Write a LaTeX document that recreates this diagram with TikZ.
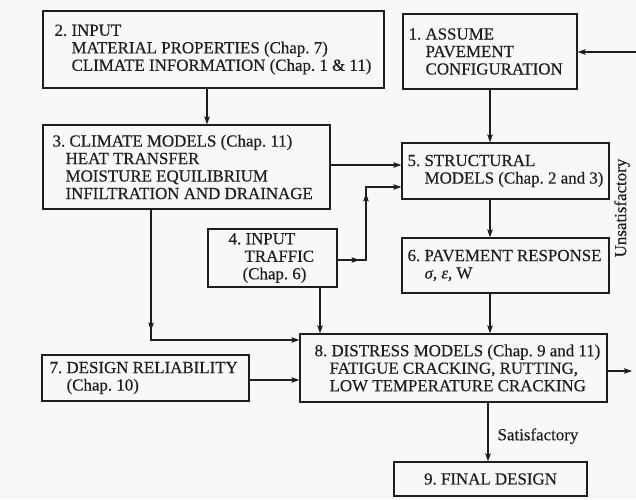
\documentclass[tikz,border=0pt]{standalone}
\usepackage{fontspec}
\setmainfont{Liberation Serif}
\usetikzlibrary{arrows.meta,decorations.markings,fit}
\definecolor{ink}{HTML}{1E1E1E}
\definecolor{paper}{HTML}{F7F8FA}
\begin{document}
\begin{tikzpicture}[x=1pt,y=-1pt,
  color=ink,
  font=\fontsize{16.9}{17.5}\selectfont\addfontfeatures{FakeBold=0.35}\frenchspacing,
  ar/.tip={Stealth[length=8pt,width=5.5pt,inset=1.5pt]},
  box/.style={draw=ink, line width=1.2pt, inner sep=0pt},
  txt/.style={text=ink, align=left, inner sep=0pt, anchor=west},
  conn/.style={draw=ink, line width=1.2pt, -{ar}},
  midAB/.style={postaction={decorate}, decoration={markings,
      mark=at position 22pt with {\arrow{ar}},
      mark=at position 95pt with {\arrow{ar}}}},
  midC/.style={postaction={decorate}, decoration={markings,
      mark=at position 121pt with {\arrow{ar}}}}
]
\useasboundingbox (0,0) rectangle (636,499);
\fill[paper] (0,0) rectangle (636,499);

% boxes
\node[box, fit={(43,11)(384,88)}]   (b2) {};
\node[box, fit={(403,14)(577,89)}]  (b1) {};
\node[box, fit={(43,125)(330,209)}] (b3) {};
\node[box, fit={(402,143)(609,199)}] (b5) {};
\node[box, fit={(208,229)(337,287)}] (b4) {};
\node[box, fit={(402,238)(609,293)}] (b6) {};
\node[box, fit={(42,355)(249,401)}] (b7) {};
\node[box, fit={(300,334)(607,402)}] (b8) {};
\node[box, fit={(394,462)(587,496)}] (b9) {};

% texts
\node[txt] (t2) at ([xshift=12pt]b2.west) {2.\ INPUT\\\hspace*{17pt}MATERIAL PROPERTIES (Chap.~7)\\\hspace*{17pt}CLIMATE INFORMATION (Chap.~1 \& 11)};
\node[txt] (t1) at ([xshift=6pt]b1.west) {1.\ ASSUME\\\hspace*{17pt}PAVEMENT\\\hspace*{17pt}CONFIGURATION};
\node[txt] (t3) at ([xshift=10pt]b3.west) {3.\ CLIMATE MODELS (Chap.~11)\\\hspace*{13pt}HEAT TRANSFER\\\hspace*{13pt}MOISTURE EQUILIBRIUM\\\hspace*{13pt}INFILTRATION AND DRAINAGE};
\node[txt] (t5) at ([xshift=6pt]b5.west) {5.\ STRUCTURAL\\\hspace*{17pt}MODELS (Chap.~2 and 3)};
\node[txt] (t4) at ([xshift=21pt]b4.west) {4.\ INPUT\\\hspace*{16pt}TRAFFIC\\\hspace*{14pt}(Chap.~6)};
\node[txt] (t6) at ([xshift=6pt]b6.west) {6.\ PAVEMENT RESPONSE\\\hspace*{17pt}{\itshape σ}, {\itshape ε}, W};
\node[txt] (t7) at ([xshift=8pt]b7.west) {7.\ DESIGN RELIABILITY\\\hspace*{17pt}(Chap.~10)};
\node[txt] (t8) at ([xshift=15pt]b8.west) {8.\ DISTRESS MODELS (Chap.~9 and 11)\\\hspace*{15pt}FATIGUE CRACKING, RUTTING,\\\hspace*{15pt}LOW TEMPERATURE CRACKING};
\node[text=ink, inner sep=0pt] (t9) at (b9.center) {9.\ FINAL DESIGN};

% helper coordinates
\coordinate (v151) at (151,0);
\coordinate (v207) at (207,0);
\coordinate (v320) at (320,0);
\coordinate (v366) at (366,0);
\coordinate (v488) at (488,0);
\coordinate (v490) at (490,0);
\coordinate (h52)  at (0,52);
\coordinate (h165) at (0,165);
\coordinate (h187) at (0,187);
\coordinate (h260) at (0,260);
\coordinate (h340) at (0,340);
\coordinate (h371) at (0,371);
\coordinate (h380) at (0,380);
\coordinate (fbOut) at (632,371);
\coordinate (fbIn)  at (637,52);

% connectors
\draw[conn] (b2.south -| v207) -- (b3.north -| v207);
\draw[conn] (b1.south -| v490) -- (b5.north -| v490);
\draw[conn] (b3.east |- h165) -- (b5.west |- h165);
\draw[conn, midAB] (b4.east |- h260) -- (v366 |- h260) -- (v366 |- h187) -- (b5.west |- h187);
\draw[conn] (b5.south -| v490) -- (b6.north -| v490);
\draw[conn] (b6.south -| v490) -- (b8.north -| v490);
\draw[conn] (b4.south -| v320) -- (b8.north -| v320);
\draw[conn, midC] (b3.south -| v151) -- (v151 |- h340) -- (b8.west |- h340);
\draw[conn] (b7.east |- h380) -- (b8.west |- h380);
\draw[conn] (b8.south -| v488) -- node[pos=0.57, right, inner sep=0pt, xshift=9pt, text=ink] (sat) {Satisfactory} (b9.north -| v488);
\draw[conn] (b8.east |- h371) -- (fbOut);
\draw[conn] (fbIn) -- (b1.east |- h52);
\node[rotate=90, text=ink, inner sep=0pt] (unsat) at (622,208) {Unsatisfactory};
\end{tikzpicture}
\end{document}
